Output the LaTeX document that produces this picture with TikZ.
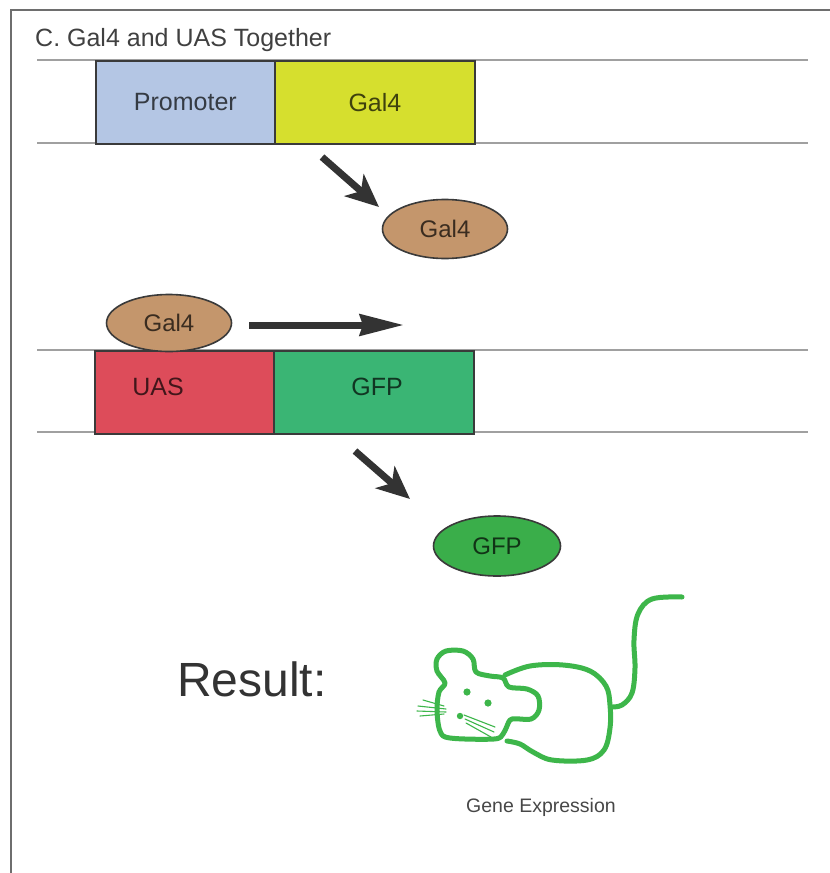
\documentclass[tikz,border=0pt]{standalone}
\usepackage{fontspec}
\setmainfont{Liberation Sans}
\usetikzlibrary{shapes.geometric,arrows.meta}

\definecolor{framegray}{HTML}{6E6E6E}
\definecolor{bandgray}{HTML}{A0A0A0}
\definecolor{edgegray}{HTML}{3A3A3A}
\definecolor{promblue}{HTML}{B4C6E4}
\definecolor{galyellow}{HTML}{D6DF2E}
\definecolor{uasred}{HTML}{DD4C5A}
\definecolor{gfpgreen}{HTML}{3AB574}
\definecolor{proteintan}{HTML}{C4966C}
\definecolor{gfpprotein}{HTML}{3AAE4A}
\definecolor{mousegreen}{HTML}{3DB64A}
\definecolor{arrowgray}{HTML}{333333}

\begin{document}
\begin{tikzpicture}[x=1pt,y=-1pt,
  band/.style={draw=bandgray,line width=1.3pt},
  genebox/.style={draw=edgegray,line width=1.8pt,anchor=north west,
    minimum height=83pt,inner sep=0pt,font=\fontsize{25}{28}\selectfont,
    text=black,text opacity=0.7},
  lbl/.style={inner sep=0pt,font=\fontsize{25}{28}\selectfont,
    text=black,text opacity=0.7},
  protein/.style={ellipse,draw=edgegray,line width=1.6pt,inner sep=0pt,
    font=\fontsize{24}{27}\selectfont,text=black,text opacity=0.7},
  bigarrow/.style={draw=arrowgray,line width=7pt,
    -{Stealth[length=33pt,width=29pt,inset=9pt]}},
  longarrow/.style={draw=arrowgray,line width=7pt,
    -{Stealth[length=44pt,width=21pt,inset=3pt]}},
  mouse/.style={draw=mousegreen,line width=5pt,line cap=round,line join=round},
  whisker/.style={draw=mousegreen,line width=1.1pt,line cap=round}]

\useasboundingbox (0,0) rectangle (830,873);
\fill[white] (0,0) rectangle (830,873);

% outer frame (top and left edges only)
\draw[framegray,line width=1.6pt] (11,873) -- (11,10) -- (830,10);

% title
\node[anchor=base west,inner sep=0pt,font=\fontsize{25}{28}\selectfont,
  text=black,text opacity=0.75] (title) at (35,46) {C. Gal4 and UAS Together};

% ---- driver construct: Promoter + Gal4 ----
\draw[band] (37,60) -- (808,60);
\draw[band] (37,143) -- (808,143);
\node[genebox,fill=promblue,minimum width=179pt] (prom) at (95,60) {Promoter};
\node[genebox,fill=galyellow,minimum width=200pt] (gal) at (274,60) {Gal4};

% Gal4 protein made from the driver
\coordinate (a1s) at (322,157);
\coordinate (a1e) at (379,207);
\draw[bigarrow] (a1s) -- (a1e);
\node[protein,fill=proteintan,minimum width=125pt,minimum height=59pt] (galp) at (445,229) {Gal4};

% ---- responder construct: UAS + GFP ----
\draw[band] (37,350) -- (808,350);
\draw[band] (37,432) -- (808,432);
\node[genebox,fill=uasred,minimum width=179pt] (uas) at (94,350) {};
\node[lbl] (uaslbl) at (158,387) {UAS};
\node[genebox,fill=gfpgreen,minimum width=200pt] (gfp) at (273,350) {};
\node[lbl] (gfplbl) at (377,387) {GFP};

% Gal4 bound to UAS, activating transcription
\node[protein,fill=proteintan,minimum width=125pt,minimum height=57pt] (galb) at (169,323) {Gal4};
\coordinate (a2s) at (249,325);
\coordinate (a2e) at (404,325);
\draw[longarrow] (a2s) -- (a2e);

% GFP protein
\coordinate (a3s) at (355,451);
\coordinate (a3e) at (410,499);
\draw[bigarrow] (a3s) -- (a3e);
\node[protein,fill=gfpprotein,minimum width=127pt,minimum height=60pt] (gfpp) at (497,546) {GFP};

% ---- result ----
\node[anchor=base west,inner sep=0pt,font=\fontsize{48}{52}\selectfont,
  text=black,text opacity=0.8] (result) at (177,696) {Result:};

% green mouse
\draw[mouse] plot[smooth cycle,tension=0.55] coordinates {
  (445,683) (437,671) (437,659) (446,651) (463,651) (473,659) (476,672)
  (490,676) (503,678) (509,687) (527,689) (538,696) (539,710) (531,719)
  (512,719) (507,726) (503,734) (494,739) (450,738) (440,731) (437,710)
  (439,692)};
\draw[mouse] plot[smooth,tension=0.6] coordinates {
  (505,675) (530,666) (563,665) (590,671) (606,686) (610,705) (610,728)
  (604,750) (587,760) (552,760) (533,752) (520,744) (507,741)};
\draw[mouse] plot[smooth,tension=0.6] coordinates {
  (611,707) (622,705) (632,693) (635,668) (634,640) (638,614) (652,599)
  (682,597)};
\fill[mousegreen] (467,692) circle (3.6pt);
\fill[mousegreen] (488,703) circle (3.6pt);
\fill[mousegreen] (460,716) circle (3.2pt);
\draw[whisker] (423,700) -- (444,706);
\draw[whisker] (418,706) -- (446,709);
\draw[whisker] (417,711) -- (446,712);
\draw[whisker] (420,716) -- (444,714);
\draw[whisker] (464,715) -- (495,727);
\draw[whisker] (465,719) -- (494,732);
\draw[whisker] (466,723) -- (491,737);

\node[anchor=base,inner sep=0pt,font=\fontsize{19.5}{22}\selectfont,
  text=black,text opacity=0.72] (caption) at (541,812) {Gene Expression};

\end{tikzpicture}
\end{document}
